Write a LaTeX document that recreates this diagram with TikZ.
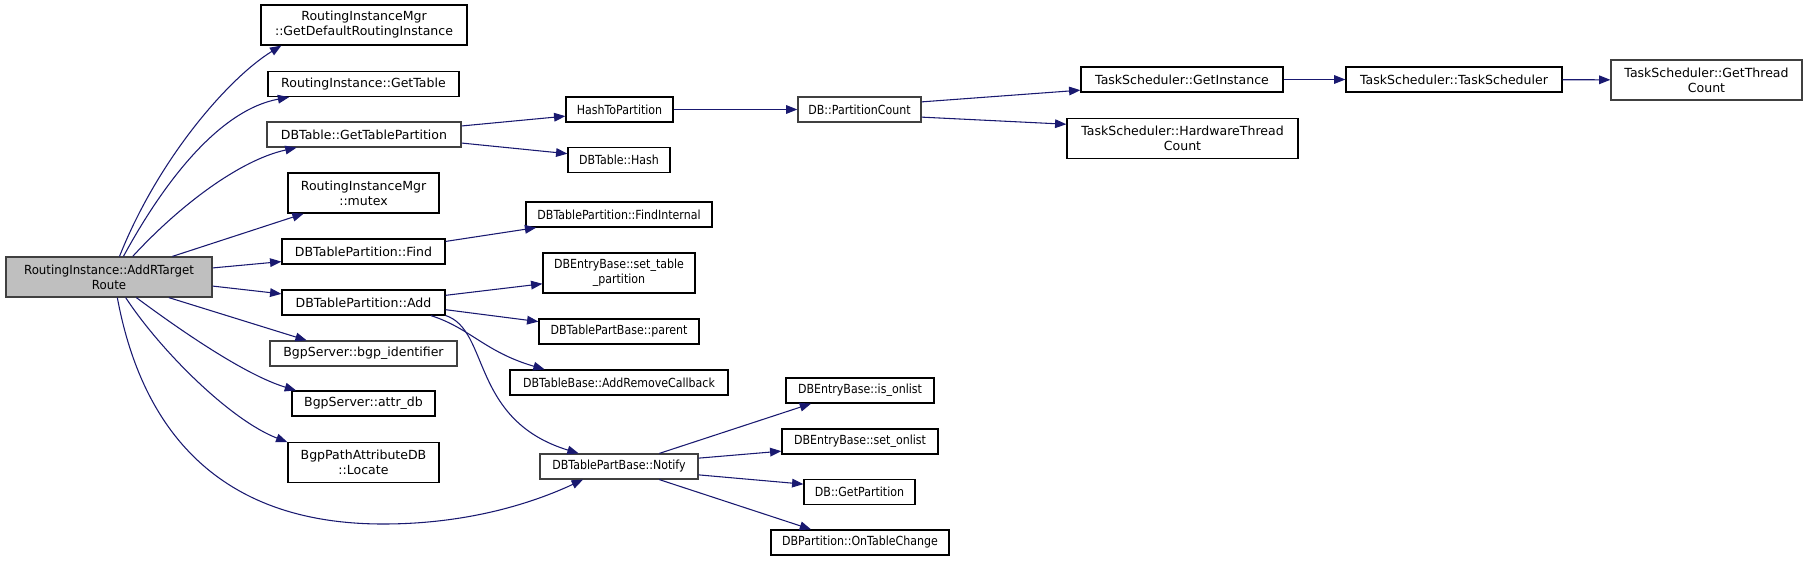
\documentclass[tikz,border=0pt]{standalone}
\usepackage{fontspec}
\setmainfont{DejaVu Sans}
\newfontfamily\condfont[FakeStretch=0.88]{DejaVu Sans}
\newfontfamily\mainfont[FakeStretch=0.94]{DejaVu Sans}
\usetikzlibrary{arrows.meta}

\definecolor{edgeblue}{HTML}{191970}
\definecolor{maingray}{HTML}{BFBFBF}
\definecolor{darkborder}{HTML}{404040}

\begin{document}
\begin{tikzpicture}[x=0.75pt, y=-0.75pt,
		fnnode/.style={draw=black, line width=0.9pt, fill=white, inner sep=0pt, align=center,
			font=\fontsize{9.4}{11.3}\selectfont, minimum width=#1*0.75pt, minimum height=18.75pt},
		fntwo/.style={fnnode=#1, minimum height=30pt},
		narrow/.style={font=\condfont\fontsize{9.4}{11.3}\selectfont},
		mainnode/.style={fntwo=#1, fill=maingray, draw=darkborder, font=\mainfont\fontsize{9.4}{11.3}\selectfont},
		call/.style={-{Triangle[length=8.5pt, width=6.5pt]}, line width=0.8pt, draw=edgeblue}
		]
		\useasboundingbox (0,0) rectangle (1808,561);
		
		% Caller
		\node[mainnode=206] (addr) at (109,277) {RoutingInstance::AddRTarget\\Route};
		
		% First level
		\node[fntwo=206] (defri) at (364,25) {RoutingInstanceMgr\\::GetDefaultRoutingInstance};
		\node[fnnode=191] (gettable) at (363.5,84) {RoutingInstance::GetTable};
		\node[fnnode=194, draw=darkborder] (gtp) at (364,134.5) {DBTable::GetTablePartition};
		\node[fntwo=151] (mutex) at (363.5,193) {RoutingInstanceMgr\\::mutex};
		\node[fnnode=163] (find) at (363.5,251.5) {DBTablePartition::Find};
		\node[fnnode=163] (add) at (363.5,302.5) {DBTablePartition::Add};
		\node[fnnode=187, draw=darkborder] (bgpid) at (363.5,353.5) {BgpServer::bgp\_identifier};
		\node[fnnode=143] (attrdb) at (363.5,403.5) {BgpServer::attr\_db};
		\node[fntwo=151] (locate) at (363.5,462.5) {BgpPathAttributeDB\\::Locate};
		
		% Second level
		\node[fnnode=107, narrow] (h2p) at (619.5,109.5) {HashToPartition};
		\node[fnnode=102, narrow] (hash) at (619,160) {DBTable::Hash};
		\node[fnnode=186, narrow] (findint) at (619,214.5) {DBTablePartition::FindInternal};
		\node[fntwo=152, narrow] (settp) at (619,273) {DBEntryBase::set\_table\\\_partition};
		\node[fnnode=160, narrow] (parent) at (619,331.5) {DBTablePartBase::parent};
		\node[fnnode=218, narrow] (addrm) at (619,382.5) {DBTableBase::AddRemoveCallback};
		\node[fnnode=158, narrow, draw=darkborder] (notify) at (619,466.5) {DBTablePartBase::Notify};
		
		% Third level
		\node[fnnode=123, narrow, draw=darkborder] (pcount) at (859.5,109.5) {DB::PartitionCount};
		\node[fnnode=148, narrow] (isonl) at (860,390.5) {DBEntryBase::is\_onlist};
		\node[fnnode=156, narrow] (setonl) at (860,441.5) {DBEntryBase::set\_onlist};
		\node[fnnode=111, narrow] (getpart) at (859.5,492) {DB::GetPartition};
		\node[fnnode=178, narrow] (ontc) at (860,542.5) {DBPartition::OnTableChange};
		
		% Task scheduler chain
		\node[fnnode=202] (getinst) at (1182,79.5) {TaskScheduler::GetInstance};
		\node[fntwo=231] (hwtc) at (1182.5,138.5) {TaskScheduler::HardwareThread\\Count};
		\node[fnnode=216] (tsched) at (1454,79.5) {TaskScheduler::TaskScheduler};
		\node[fntwo=191, draw=darkborder] (gtc) at (1706.5,80) {TaskScheduler::GetThread\\Count};
		
		% Calls from AddRTargetRoute
		\draw[call] (addr.63) .. controls (159,157) and (230,77) .. (defri.-166);
		\draw[call] (addr.55) .. controls (165,180) and (220,110) .. (gettable.-170);
		\draw[call] (addr.41) .. controls (180,205) and (240,160) .. (gtp.-169.4);
		\draw[call] (addr.18) -- (mutex.-161.7);
		\draw[call] (addr.5.5) -- (find.-173.4);
		\draw[call] (addr.-5.5) -- (add.174.7);
		\draw[call] (addr.-19) -- (bgpid.167);
		\draw[call] (addr.-37.6) .. controls (180,330) and (245,375) .. (attrdb.169);
		\draw[call] (addr.-51) .. controls (160,350) and (230,420) .. (locate.165);
		\draw[call] (addr.-68) .. controls (140,420) and (210,524) .. (383,524)
			.. controls (470,524) and (535,502) .. (notify.-160);
		
		% Second level calls
		\draw[call] (gtp.5.6) -- (h2p.-173);
		\draw[call] (gtp.-5) -- (hash.173.3);
		\draw[call] (find.7.3) -- (findint.-171.3);
		\draw[call] (add.5.3) -- (settp.-172.5);
		\draw[call] (add.-5.9) -- (parent.173.2);
		\draw[call] (add.-11) .. controls (470,328) and (485,352) .. (addrm.170.4);
		\draw[call] (add.-9.5) .. controls (490,330) and (470,420) .. (notify.162);
		
		% Further calls
		\draw[call] (h2p) -- (pcount);
		\draw[call] (pcount.7.9) -- (getinst.-174);
		\draw[call] (pcount.-7) -- (hwtc.173.8);
		\draw[call] (getinst) -- (tsched);
		\draw[call] (tsched) -- (gtc);
		\draw[call] (notify.18.2) -- (isonl.-165.4);
		\draw[call] (notify.6.1) -- (setonl.-173);
		\draw[call] (notify.-6.1) -- (getpart.172.8);
		\draw[call] (notify.-18.2) -- (ontc.165.4);
		
	\end{tikzpicture}
\end{document}
